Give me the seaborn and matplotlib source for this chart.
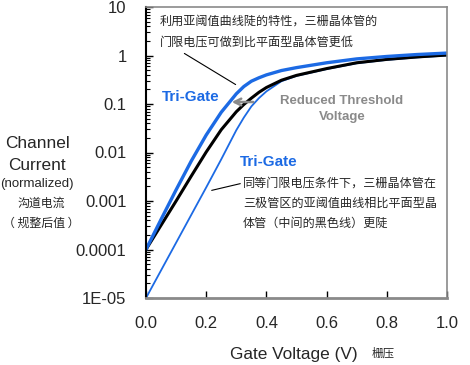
import numpy as np
import matplotlib
matplotlib.use("Agg")
import matplotlib.pyplot as plt
import seaborn as sns

# gate voltage (V) and log10 of normalized channel current
gate_v = [0.0, 0.05, 0.10, 0.15, 0.20, 0.25, 0.30, 0.325, 0.35, 0.375, 0.40,
          0.45, 0.50, 0.60, 0.70, 0.80, 0.90, 1.00]
trigate_low_vt = [-4.0, -3.38, -2.77, -2.18, -1.64, -1.17, -0.79, -0.64, -0.53, -0.46,
                  -0.40, -0.31, -0.25, -0.15, -0.07, -0.02, 0.02, 0.05]
planar = [-4.0, -3.50, -3.00, -2.49, -1.99, -1.53, -1.16, -1.01, -0.88, -0.76,
          -0.66, -0.51, -0.41, -0.27, -0.15, -0.08, -0.03, 0.01]
trigate_same_vt = [-5.0, -4.43, -3.86, -3.29, -2.72, -2.14, -1.54, -1.28, -1.05, -0.88,
                   -0.74, -0.53, -0.42, -0.28, -0.16, -0.09, -0.04, 0.0]

y_ticks = [1e-5, 1e-4, 1e-3, 1e-2, 1e-1, 1, 10]
y_tick_labels = ["1E-05", "0.0001", "0.001", "0.01", "0.1", "1", "10"]
x_ticks = [0.0, 0.2, 0.4, 0.6, 0.8, 1.0]
x_tick_labels = ["0.0", "0.2", "0.4", "0.6", "0.8", "1.0"]

BLUE = "#1c6ae4"
GRAY = "#8a8a8a"
W, H = 470, 365
LATIN = ["Liberation Sans", "Noto Sans CJK SC"]
CJK = ["Noto Sans CJK SC", "DejaVu Sans"]


def fp(x, y):
    # figure pixel (from top-left) -> figure fraction
    return x / W, 1 - y / H


sns.set_style("white")
plt.rcParams["font.family"] = LATIN

fig = plt.figure(figsize=(W / 100, H / 100), dpi=100)
ax = fig.add_axes([146 / W, 1 - 298 / H, (447 - 146) / W, (298 - 7) / H])

sns.lineplot(x=gate_v, y=np.power(10.0, trigate_same_vt), ax=ax, color=BLUE, linewidth=1.3)
sns.lineplot(x=gate_v, y=np.power(10.0, planar), ax=ax, color="black", linewidth=2.2)
sns.lineplot(x=gate_v, y=np.power(10.0, trigate_low_vt), ax=ax, color=BLUE, linewidth=2.4)

ax.set_yscale("log")
ax.set_xlim(0, 1)
ax.set_ylim(1e-5, 10)
ax.set_yticks(y_ticks)
ax.set_yticklabels(y_tick_labels)
ax.set_xticks(x_ticks)
ax.set_xticklabels(x_tick_labels)
ax.tick_params(axis="y", which="major", direction="in", length=5, width=1, left=True,
               color="black", labelsize=12, pad=14)
ax.tick_params(axis="y", which="minor", direction="in", length=3, width=0.8, left=True,
               color="black")
ax.tick_params(axis="x", which="major", direction="in", length=5, width=1, bottom=True,
               color="black", labelsize=12, pad=13)
ax.set_xlabel("")
ax.set_ylabel("")

for side in ["top", "right"]:
    ax.spines[side].set_color(GRAY)
    ax.spines[side].set_linewidth(1.2)
ax.spines["left"].set_color("black")
ax.spines["left"].set_linewidth(1.5)
ax.spines["bottom"].set_color(GRAY)
ax.spines["bottom"].set_linewidth(2)

# axis titles
fig.text(*fp(230, 355), "Gate Voltage (V)", fontsize=12.4, ha="left", va="center")
fig.text(*fp(372, 353), "栅压", fontsize=8.3, family=CJK, ha="left", va="center")
fig.text(*fp(37, 144), "Channel", fontsize=12.4, ha="center", va="center")
fig.text(*fp(37, 165), "Current", fontsize=12.4, ha="center", va="center")
fig.text(*fp(37, 184), "(normalized)", fontsize=9.5, ha="center", va="center")
fig.text(*fp(41, 203), "沟道电流", fontsize=8.6, family=CJK, ha="center", va="center")
fig.text(*fp(41, 223), "（ 规整后值 ）", fontsize=8.6, family=CJK, ha="center", va="center")

# annotations
fig.text(*fp(160, 21), "利用亚阈值曲线陡的特性，三栅晶体管的", fontsize=8.7, family=CJK,
         ha="left", va="center")
fig.text(*fp(160, 42), "门限电压可做到比平面型晶体管更低", fontsize=8.7, family=CJK,
         ha="left", va="center")
fig.text(*fp(243, 183), "同等门限电压条件下，三栅晶体管在", fontsize=8.7, family=CJK,
         ha="left", va="center")
fig.text(*fp(243, 203), "三极管区的亚阈值曲线相比平面型晶", fontsize=8.7, family=CJK,
         ha="left", va="center")
fig.text(*fp(243, 223), "体管（中间的黑色线）更陡", fontsize=8.7, family=CJK,
         ha="left", va="center")

fig.text(*fp(162, 97), "Tri-Gate", fontsize=11, color=BLUE, weight="bold",
         ha="left", va="center")
fig.text(*fp(240, 162), "Tri-Gate", fontsize=11, color=BLUE, weight="bold",
         ha="left", va="center")
fig.text(*fp(342, 101), "Reduced Threshold", fontsize=9.5, color=GRAY, weight="bold",
         ha="center", va="center")
fig.text(*fp(342, 117), "Voltage", fontsize=9.5, color=GRAY, weight="bold",
         ha="center", va="center")

ax.annotate("", xy=fp(238, 86), xytext=fp(182, 52), xycoords="figure fraction",
            textcoords="figure fraction",
            arrowprops=dict(arrowstyle="-", color="black", lw=0.8))
ax.annotate("", xy=fp(209, 191), xytext=fp(243, 183), xycoords="figure fraction",
            textcoords="figure fraction",
            arrowprops=dict(arrowstyle="-", color="black", lw=0.8))
ax.annotate("", xy=fp(229, 102), xytext=fp(256, 102), xycoords="figure fraction",
            textcoords="figure fraction",
            arrowprops=dict(arrowstyle="->", color=GRAY, lw=1.8, mutation_scale=12))

fig.savefig("out.png", dpi=100)
